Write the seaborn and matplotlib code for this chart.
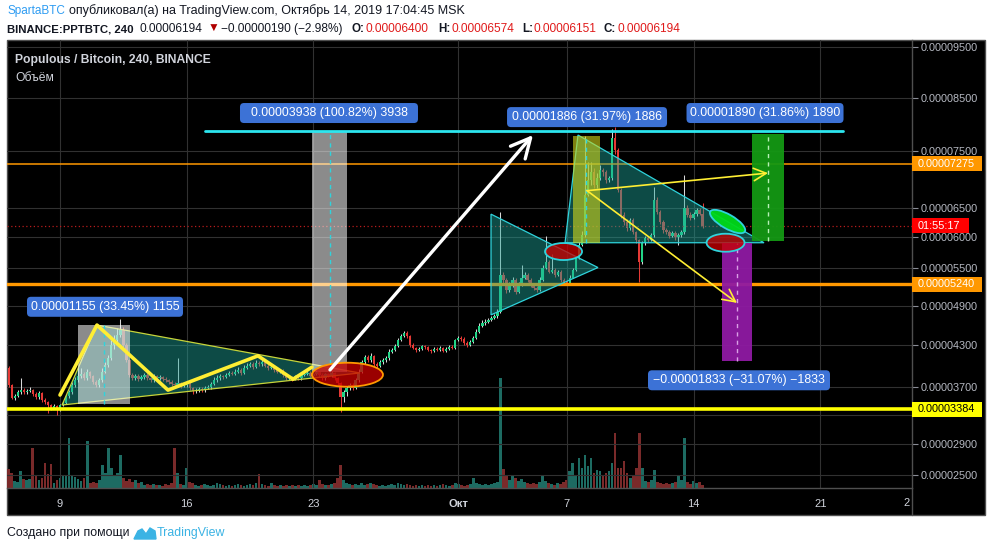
import numpy as np
import pandas as pd
import matplotlib
matplotlib.use("Agg")
import matplotlib.pyplot as plt
import matplotlib.dates as mdates
import matplotlib.patches as mpatches
import matplotlib.transforms as mtransforms
from matplotlib.lines import Line2D
import seaborn as sns

# ---------------- data (prices in satoshi, 1e-8 BTC) ----------------
start_time = "2019-09-06 04:00"
first_open = 3970
close = [3720, 3540, 3565, 3620, 3650, 3620, 3635, 3650, 3595, 3550,
         3610, 3510, 3485, 3440, 3400, 3425, 3370, 3440, 3470, 3565,
         3620, 3720, 3790, 3850, 3880, 3820, 3910, 3850, 3760, 3720,
         3790, 3910, 4010, 4110, 4305, 4380, 4455, 4530, 4305, 4080,
         3865, 3820, 3850, 3805, 3835, 3865, 3820, 3790, 3850, 3820,
         3835, 3805, 3790, 3760, 3735, 3720, 3750, 3705, 3720, 3735,
         3680, 3635, 3650, 3665, 3650, 3680, 3690, 3735, 3790, 3820,
         3850, 3835, 3865, 3895, 3880, 3910, 3940, 3895, 3970, 4000,
         4025, 3980, 4040, 4025, 4055, 4000, 3970, 3980, 3940, 3910,
         3925, 3865, 3820, 3835, 3805, 3850, 3820, 3865, 3880, 3895,
         3850, 3880, 3910, 3865, 3820, 3880, 3850, 3895, 3820, 3750,
         3550, 3620, 3680, 3720, 3680, 3790, 3910, 4055, 4130, 4080,
         4145, 4025, 4000, 4055, 4080, 4110, 4200, 4230, 4290, 4380,
         4440, 4485, 4440, 4305, 4260, 4230, 4245, 4290, 4275, 4230,
         4215, 4245, 4230, 4260, 4215, 4245, 4275, 4260, 4380, 4410,
         4395, 4335, 4305, 4350, 4410, 4500, 4590, 4635, 4650, 4680,
         4710, 4745, 4810, 5390, 5310, 5150, 5230, 5310, 5120, 5230,
         5345, 5390, 5310, 5215, 5185, 5150, 5310, 5505, 5600, 5440,
         5470, 5390, 5440, 5310, 5280, 5265, 5345, 5470, 5660, 5875,
         6040, 6725, 6980, 7125, 6895, 7015, 7160, 7125, 6980, 7015,
         7740, 7520, 6810, 6375, 6255, 6155, 6290, 6090, 5960, 5600,
         5910, 5990, 5960, 6040, 6640, 6425, 6255, 6120, 6090, 6025,
         6075, 6010, 6040, 6090, 6495, 6375, 6325, 6390, 6460, 6400,
         6194]
high = [3990, 3740, 3600, 3650, 3820, 3680, 3670, 3690, 3670, 3620,
        3640, 3630, 3540, 3500, 3460, 3450, 3440, 3460, 3500, 3590,
        3650, 3760, 3830, 3980, 3960, 3910, 3950, 3930, 3870, 3790,
        3820, 3960, 4060, 4150, 4380, 4450, 4560, 4700, 4580, 4330,
        4100, 3900, 3880, 3880, 3860, 3890, 3890, 3840, 3880, 3870,
        3860, 3850, 3830, 3810, 3790, 3760, 4120, 3770, 3740, 3770,
        3760, 3700, 3680, 3690, 3690, 3710, 3720, 3760, 3830, 3860,
        3880, 3870, 3900, 3930, 3920, 3950, 3980, 3960, 4010, 4040,
        4060, 4050, 4080, 4070, 4100, 4080, 4020, 4010, 4000, 3960,
        3950, 3950, 3880, 3860, 3850, 3870, 3870, 3890, 3910, 3920,
        3920, 3900, 3940, 3930, 3890, 3900, 3900, 3920, 3910, 3840,
        3770, 3650, 3710, 3750, 3750, 3820, 3950, 4090, 4160, 4150,
        4180, 4160, 4050, 4080, 4110, 4140, 4240, 4260, 4320, 4410,
        4470, 4520, 4510, 4460, 4330, 4280, 4270, 4310, 4310, 4290,
        4250, 4270, 4270, 4290, 4280, 4270, 4300, 4300, 4400, 4440,
        4440, 4420, 4360, 4380, 4440, 4540, 4630, 4680, 4690, 4720,
        4750, 4780, 4850, 6430, 5440, 5340, 5280, 5350, 5330, 5270,
        5550, 5430, 5420, 5330, 5240, 5210, 5350, 5540, 6020, 5620,
        5730, 5500, 5470, 5460, 5330, 5310, 5380, 5500, 5700, 5920,
        6110, 7780, 7300, 7300, 7200, 7100, 7250, 7200, 7160, 7060,
        7900, 7940, 7560, 6850, 6420, 6300, 6330, 6320, 6110, 5980,
        5940, 6030, 6020, 6080, 6860, 6680, 6460, 6290, 6150, 6120,
        6110, 6100, 6080, 6130, 7070, 6540, 6420, 6430, 6500, 6490,
        6574]
low = [3700, 3520, 3510, 3550, 3600, 3600, 3600, 3620, 3570, 3530,
       3530, 3480, 3450, 3330, 3370, 3380, 3300, 3350, 3420, 3450,
       3540, 3600, 3700, 3770, 3820, 3790, 3800, 3820, 3740, 3690,
       3700, 3770, 3890, 3980, 4090, 4250, 4330, 4420, 4280, 4050,
       3840, 3790, 3800, 3780, 3790, 3810, 3800, 3770, 3770, 3800,
       3800, 3780, 3770, 3740, 3710, 3700, 3700, 3680, 3690, 3700,
       3650, 3600, 3610, 3630, 3630, 3630, 3660, 3670, 3720, 3770,
       3800, 3810, 3820, 3850, 3860, 3860, 3890, 3870, 3880, 3950,
       3980, 3950, 3960, 4000, 4000, 3980, 3940, 3950, 3910, 3890,
       3890, 3840, 3800, 3800, 3780, 3790, 3800, 3800, 3850, 3860,
       3830, 3830, 3860, 3840, 3800, 3800, 3830, 3830, 3800, 3720,
       3340, 3480, 3560, 3650, 3650, 3660, 3770, 3890, 4030, 4050,
       4060, 4000, 3970, 3980, 4030, 4060, 4090, 4180, 4210, 4270,
       4360, 4420, 4410, 4280, 4240, 4200, 4210, 4230, 4250, 4210,
       4190, 4200, 4210, 4210, 4200, 4200, 4230, 4240, 4250, 4360,
       4370, 4310, 4280, 4290, 4330, 4390, 4480, 4570, 4610, 4630,
       4660, 4690, 4720, 4790, 5250, 5100, 5120, 5200, 5080, 5100,
       5210, 5320, 5280, 5190, 5150, 5110, 5130, 5290, 5480, 5410,
       5410, 5360, 5370, 5280, 5250, 5240, 5250, 5330, 5450, 5640,
       5850, 6000, 6700, 6900, 6850, 6850, 6980, 7050, 6930, 6950,
       6990, 7450, 6780, 6330, 6200, 6100, 6120, 6050, 5900, 5270,
       5570, 5880, 5920, 5940, 6010, 6390, 6220, 6080, 6050, 5990,
       6000, 5960, 5880, 6010, 6060, 6340, 6290, 6300, 6360, 6370,
       6151]
volume = [19, 15, 7, 6, 17, 9, 8, 9, 40, 12,
          8, 10, 25, 14, 24, 5, 8, 10, 13, 12,
          50, 13, 11, 9, 7, 10, 47, 5, 6, 5,
          8, 23, 15, 40, 20, 12, 15, 33, 10, 7,
          9, 6, 8, 5, 6, 3, 4, 3, 4, 3,
          3, 2, 4, 3, 5, 40, 15, 4, 3, 20,
          6, 5, 3, 2, 3, 4, 3, 2, 3, 5,
          4, 3, 2, 3, 2, 3, 4, 3, 2, 3,
          4, 3, 5, 14, 4, 3, 2, 5, 3, 2,
          3, 2, 3, 2, 3, 2, 3, 2, 3, 2,
          3, 4, 3, 8, 4, 3, 3, 4, 5, 10,
          23, 8, 5, 4, 3, 4, 3, 5, 3, 4,
          5, 4, 3, 2, 3, 2, 3, 4, 3, 5,
          4, 3, 4, 3, 2, 3, 2, 3, 2, 3,
          2, 3, 2, 3, 4, 3, 2, 3, 5, 4,
          3, 2, 3, 4, 10, 5, 4, 3, 4, 3,
          4, 5, 6, 110, 19, 12, 8, 13, 10, 7,
          9, 6, 5, 4, 5, 4, 6, 12, 7, 5,
          4, 3, 5, 4, 6, 8, 17, 25, 12, 30,
          20, 33, 22, 30, 15, 18, 17, 12, 15, 17,
          25, 55, 20, 20, 27, 15, 10, 12, 20, 55,
          20, 7, 6, 8, 18, 6, 5, 4, 5, 4,
          5, 6, 12, 8, 50, 6, 4, 7, 5, 6,
          3]

price_ticks = [2500, 2900, 3300, 3700, 4300, 4900, 5500, 6000, 6500, 7500, 8500, 9500]
hidden_price_ticks = [3300]          # label covered by the 0.00003384 tag in the reference
date_ticks = ["2019-09-09", "2019-09-16", "2019-09-23", "2019-10-01",
              "2019-10-07", "2019-10-14", "2019-10-21"]
date_labels = ["9", "16", "23", "Окт", "7", "14", "21"]

level_yellow = 3384
level_orange_low = 5240
level_orange_high = 7275
last_price = 6194
countdown = "01:55:17"

# drawings (time, price)
tri_a = [("2019-09-09 02:40", 3440), ("2019-09-11 01:00", 4605), ("2019-09-25 13:45", 3895)]
tri_b = [("2019-10-02 19:30", 6390), ("2019-10-02 19:30", 4760), ("2019-10-08 17:20", 5505)]
tri_c = [("2019-10-07 14:50", 7795), ("2019-10-06 21:40", 5910), ("2019-10-17 21:30", 5910)]
zigzag_t = ["2019-09-09 00:00", "2019-09-11 01:00", "2019-09-14 23:10",
            "2019-09-19 22:30", "2019-09-21 21:00", "2019-09-22 22:00"]
zigzag_p = [3580, 4605, 3650, 4145, 3805, 3980]
range_boxes = [  # start, end, low, high, kind, measure line time
    ("2019-09-10 00:00", "2019-09-12 20:48", 3452, 4607, "gray", "2019-09-11 10:20"),
    ("2019-09-22 22:05", "2019-09-24 20:30", 3906, 7844, "gray", "2019-09-23 22:00"),
    ("2019-10-07 08:10", "2019-10-08 20:00", 5899, 7785, "yellow", "2019-10-08 01:30"),
    ("2019-10-15 13:40", "2019-10-17 05:30", 4067, 5900, "purple", "2019-10-16 09:40"),
    ("2019-10-17 05:30", "2019-10-19 00:00", 5932, 7822, "green", "2019-10-18 02:50"),
]
measure_labels = [
    ("0.00001155 (33.45%) 1155", "2019-09-11 11:40", 4885),
    ("0.00003938 (100.82%) 3938", "2019-09-23 20:40", 8207),
    ("0.00001886 (31.97%) 1886", "2019-10-08 02:50", 8130),
    ("0.00001890 (31.86%) 1890", "2019-10-17 22:50", 8207),
    ("\u22120.00001833 (\u221231.07%) \u22121833", "2019-10-16 12:20", 3790),
]
cyan_line = [("2019-09-17 00:15", 7870), ("2019-10-22 06:15", 7870)]
white_arrow = [("2019-09-23 22:00", 3940), ("2019-10-05 03:10", 7795)]
yellow_arrows = [[("2019-10-08 02:50", 6795), ("2019-10-18 02:50", 7105)],
                 [("2019-10-08 02:50", 6795), ("2019-10-16 09:40", 4945)]]
ellipses = [("2019-09-24 21:10", 3870, "red", "orange"),
            ("2019-10-06 19:40", 5765, "red", "cyan"),
            ("2019-10-15 21:10", 6265, "green", "cyan"),
            ("2019-10-15 18:30", 5910, "red", "cyan")]

# ---------------- styling ----------------
W, H = 989, 552
sns.set_style("dark")
plt.rcParams['font.family'] = ['Liberation Sans', 'DejaVu Sans']
plt.rcParams['axes.unicode_minus'] = True

UP, DOWN, UPWICK = '#22d487', '#e53935', '#d8d8d8'
VUP, VDOWN = '#1d6b62', '#7a2a2a'
CYAN = '#2fd3dc'
GRID = '#313131'
BORDER = '#4f4f4f'
AXTXT = '#b6b9c2'


def T(s):
    return mdates.date2num(pd.Timestamp(s).to_pydatetime())


def F(x, y):
    return x / W, 1 - y / H


def px_trans(x, y, base):
    return mtransforms.Affine2D() + mtransforms.ScaledTranslation(x, y, base)


fig = plt.figure(figsize=(W / 100, H / 100), dpi=100, facecolor='white')
fig.add_artist(mpatches.Rectangle(F(7, 515), (985 - 7) / W, (515 - 40) / H,
                                  transform=fig.transFigure, facecolor='black',
                                  edgecolor=BORDER, lw=1, zorder=-10))

ax = fig.add_axes([7 / W, (H - 488) / H, (912 - 7) / W, (488 - 40) / H])
axv = ax.twinx()
ax.set_zorder(3)
axv.set_zorder(2)
ax.patch.set_visible(False)
axv.patch.set_visible(False)

ax.set_yscale('function', functions=(lambda p: np.log(np.asarray(p, float) + 10000.0),
                                     lambda t: np.exp(t) - 10000.0))

# ---------------- candles ----------------
n = len(close)
times = pd.date_range(start_time, periods=n, freq="4h")
xs = mdates.date2num(times.to_pydatetime())
c = np.array(close, float)
o = np.array([first_open] + close[:-1], float)
hi = np.array(high, float)
lo = np.array(low, float)
up = c >= o

axv.bar(xs, volume, width=0.15, color=np.where(up, VUP, VDOWN), linewidth=0)
axv.set_ylim(0, 448)
axv.yaxis.set_visible(False)
for s in axv.spines.values():
    s.set_visible(False)

ax.vlines(xs, lo, hi, colors=np.where(up, UPWICK, DOWN), lw=0.75, zorder=3)
ax.bar(xs, np.maximum(np.abs(c - o), 8), bottom=np.minimum(o, c), width=0.13,
       color=np.where(up, UP, DOWN), linewidth=0, zorder=3)

# ---------------- levels ----------------
ax.axhline(level_yellow, color='#ffff00', lw=2.6, zorder=4)
ax.axhline(level_orange_low, color='#ff9800', lw=2.4, zorder=4)
ax.axhline(level_orange_high, color='#ff9800', lw=1.1, zorder=4)
ax.axhline(last_price, color='#b71c1c', lw=0.9, ls=(0, (1, 2)), zorder=4)

# ---------------- triangles ----------------
for tri, ec in ((tri_a, '#c6d43a'), (tri_b, CYAN), (tri_c, CYAN)):
    pts = [(T(t), p) for t, p in tri]
    ax.add_patch(mpatches.Polygon(pts, closed=True, facecolor=(0.12, 0.66, 0.61, 0.45),
                                  edgecolor=ec, lw=0.9, zorder=5))

# ---------------- range boxes ----------------
box_style = {"gray": ((1, 1, 1, 0.55), CYAN),
             "yellow": ((0.82, 0.84, 0.1, 0.6), CYAN),
             "purple": ((0.56, 0.1, 0.64, 0.95), '#d9a0e6'),
             "green": ((0.08, 0.6, 0.08, 0.95), '#b6f0b6')}
for t0, t1, p0, p1, kind, tm in range_boxes:
    fc, lc = box_style[kind]
    ax.add_patch(mpatches.Rectangle((T(t0), p0), T(t1) - T(t0), p1 - p0,
                                    facecolor=fc, edgecolor='none', zorder=6))
    ax.vlines(T(tm), p0, p1, colors=lc, lw=1.0, linestyles=(0, (3, 3)), zorder=6)

# ---------------- lines & arrows ----------------
sns.lineplot(x=[T(t) for t in zigzag_t], y=zigzag_p, ax=ax, sort=False,
             estimator=None, color='#ffee33', lw=2.6, zorder=7)
sns.lineplot(x=[T(t) for t, _ in cyan_line], y=[p for _, p in cyan_line], ax=ax,
             sort=False, estimator=None, color='#2ce6ef', lw=2.0, zorder=7)

(ta, pa), (tb, pb) = white_arrow
ax.annotate('', xy=(T(tb), pb), xytext=(T(ta), pa), zorder=9,
            arrowprops=dict(arrowstyle='->,head_length=0.7,head_width=0.35',
                            color='white', lw=2.4, shrinkA=0, shrinkB=0, mutation_scale=20))
for (ta, pa), (tb, pb) in yellow_arrows:
    ax.annotate('', xy=(T(tb), pb), xytext=(T(ta), pa), zorder=9,
                arrowprops=dict(arrowstyle='->,head_length=0.6,head_width=0.3',
                                color='#ffee33', lw=1.2, shrinkA=0, shrinkB=0, mutation_scale=15))

ell_fc = {"red": (0.78, 0.0, 0.0, 0.78), "green": (0.0, 0.85, 0.1, 0.95)}
ell_ec = {"orange": '#ff9800', "cyan": CYAN}
ell_geom = [(71, 24, 0), (37, 17, 0), (40, 14, -30), (38, 18, 0)]
for (t, p, f, e), (w, h, ang) in zip(ellipses, ell_geom):
    el = mpatches.Ellipse((0, 0), w, h, angle=ang, transform=px_trans(T(t), p, ax.transData),
                          facecolor=ell_fc[f], edgecolor=ell_ec[e], lw=1.3, zorder=8)
    ax.add_artist(el)

label_w = [156, 178, 160, 157, 182]
for (txt, t, p), w in zip(measure_labels, label_w):
    bg = mpatches.FancyBboxPatch((-w / 2, -10), w, 20,
                                 boxstyle='round,pad=0,rounding_size=4',
                                 transform=px_trans(T(t), p, ax.transData),
                                 facecolor='#3c72d6', edgecolor='none', zorder=10)
    ax.add_artist(bg)
    ax.text(T(t), p, txt, ha='center', va='center', color='white', fontsize=8.9, zorder=11)

# ---------------- axes ----------------
ax.set_xlim(T("2019-09-09") - 53 / 18.1, T("2019-09-09") + 852 / 18.1)
ax.set_ylim(2329, 9643)
ax.set_xlabel('')
ax.set_ylabel('')
ax.yaxis.tick_right()
ax.set_yticks(price_ticks)
ax.set_yticklabels(["" if v in hidden_price_ticks else f"{v * 1e-8:.8f}" for v in price_ticks])
ax.set_xticks([T(d) for d in date_ticks])
ax.set_xticklabels(date_labels)
ax.get_xticklabels()[3].set_fontweight('bold')
ax.tick_params(axis='y', which='major', colors='#8a8d96', labelcolor=AXTXT, labelsize=7.8,
               length=4, width=0.8, direction='out', pad=2, right=True, left=False)
ax.tick_params(axis='x', length=0, pad=8, labelcolor='#d1d4dc', labelsize=8)
ax.grid(True, color=GRID, lw=0.8)
ax.set_axisbelow(True)
for k, s in ax.spines.items():
    s.set_visible(k in ('right', 'bottom'))
    s.set_color(BORDER)
    s.set_linewidth(1)

# price axis tags
blend = mtransforms.blended_transform_factory(ax.transAxes, ax.transData)
tags = [(level_orange_high, f"{level_orange_high * 1e-8:.8f}", '#ff9800', 'white', 70),
        (level_orange_low, f"{level_orange_low * 1e-8:.8f}", '#ff9800', 'white', 70),
        (level_yellow, f"{level_yellow * 1e-8:.8f}", '#ffff00', 'black', 70),
        (last_price, countdown, '#ff0000', 'white', 57)]
for p, txt, fc, tc, w in tags:
    r = mpatches.Rectangle((0, -7.5), w, 15, transform=px_trans(1.0, p, blend),
                           facecolor=fc, edgecolor='none', zorder=20)
    ax.add_artist(r)
    r.set_clip_on(False)
    ax.text(1.0 + 6 / 905, p, txt, transform=blend, ha='left', va='center', fontsize=7.8,
            color=tc, zorder=21, clip_on=False)

# extra frame line through time axis
fig.add_artist(Line2D([912 / W, 912 / W], [1 - 488 / H, 1 - 515 / H], transform=fig.transFigure,
                      color=BORDER, lw=1))
fig.text(*F(903, 503), "2", color='#d1d4dc', fontsize=8, ha='left', va='center')

# ---------------- texts ----------------
fig.text(*F(15, 60), "Populous / Bitcoin, 240, BINANCE", color='#d1d4dc', fontsize=8.7,
         fontweight='bold', va='center', ha='left')
fig.text(*F(15, 78), "Объём", color='#d1d4dc', fontsize=8.7, va='center', ha='left')

fig.text(*F(7, 11), "SpartaBTC", color='#2e9cf2', fontsize=8.5, va='center', ha='left')
fig.text(*F(69, 11), "опубликовал(а) на TradingView.com, Октябрь 14, 2019 17:04:45 MSK",
         color='#131722', fontsize=9, va='center', ha='left')
RED = '#e01b1b'
seg2 = [(7, "BINANCE:PPTBTC, 240", '#131722', 'bold', 8.2),
        (139, "0.00006194", '#131722', 'normal', 8.6),
        (208, "\u25bc", '#b00000', 'normal', 8.6),
        (221, "\u22120.00000190 (\u22122.98%)", '#131722', 'normal', 8.6),
        (352, "O:", '#131722', 'bold', 8.4), (365, "0.00006400", RED, 'normal', 8.6),
        (438, "H:", '#131722', 'bold', 8.4), (451, "0.00006574", RED, 'normal', 8.6),
        (522, "L:", '#131722', 'bold', 8.4), (533, "0.00006151", RED, 'normal', 8.6),
        (604, "C:", '#131722', 'bold', 8.4), (617, "0.00006194", RED, 'normal', 8.6)]
for x, s, col, fw, fs in seg2:
    fig.text(*F(x, 29), s, color=col, fontsize=fs, fontweight=fw, va='center', ha='left')

fig.text(*F(7, 533), "Создано при помощи", color='#131722', fontsize=8.9, va='center', ha='left')
logo = [F(134, 539), F(138, 531), F(142, 529), F(146, 534), F(150, 528), F(155, 531),
        F(156, 539)]
fig.add_artist(mpatches.Polygon(logo, closed=True, transform=fig.transFigure,
                                facecolor='#3bb3e4', edgecolor='#3bb3e4', lw=1))
fig.text(*F(157, 533), "TradingView", color='#3bb3e4', fontsize=8.9, va='center', ha='left')

fig.savefig("out.png", dpi=100, facecolor='white')
